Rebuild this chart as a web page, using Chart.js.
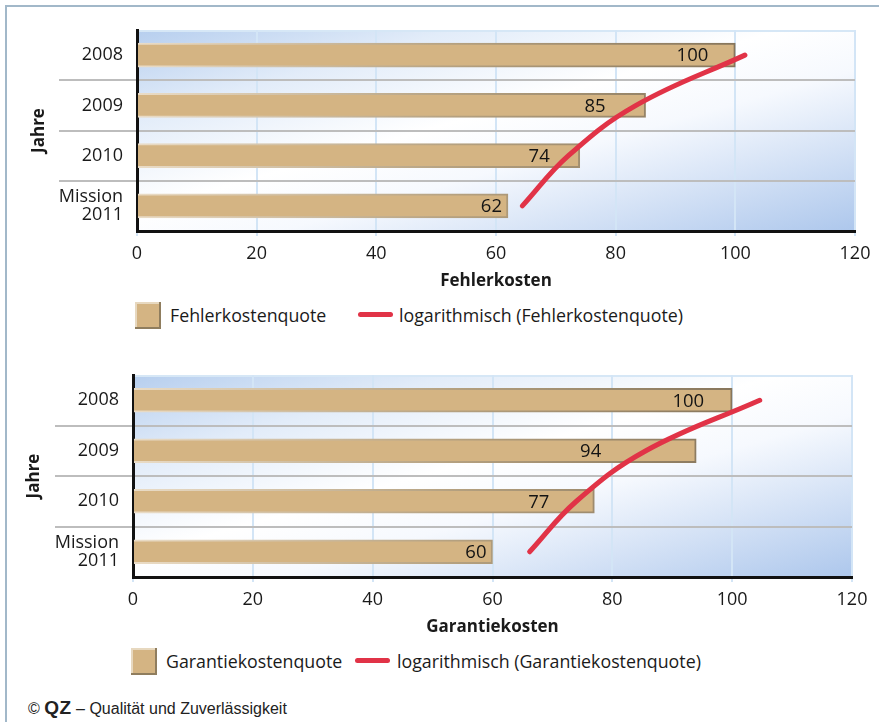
<!DOCTYPE html>
<html lang="de">
<head>
<meta charset="utf-8">
<title>Fehlerkosten und Garantiekosten</title>
<script src="https://cdn.jsdelivr.net/npm/chart.js@4/dist/chart.umd.min.js"></script>
<style>
  html, body { margin: 0; padding: 0; background: #fff; }
  body { width: 879px; height: 722px; position: relative; overflow: hidden;
         font-family: "Open Sans", "Noto Sans", sans-serif; color: #1e1e1e; }
  .frame-top { position: absolute; left: 5px; top: 5px; width: 874px; height: 2px; background: #a2b8c9; }
  .frame-left { position: absolute; left: 5px; top: 5px; width: 2px; height: 717px; background: #a2b8c9; }
  canvas { position: absolute; left: 0; }
  .swatch { position: absolute; width: 26px; height: 27px; background: #d4b483;
            box-shadow: inset -2px -2px 0 #8f7d5e, inset 2px 2px 0 #e7d8bf; }
  .trend { position: absolute; width: 35px; height: 5px; border-radius: 3px; background: #e13347; }
  .ltext { position: absolute; font-size: 17.8px; line-height: 20px; white-space: nowrap; color: #1a1a1a; }
  .footer { position: absolute; left: 28px; top: 697px; font-family: "Liberation Sans", Arial, sans-serif;
            font-size: 16px; line-height: 22px; white-space: nowrap; color: #222; }
  .footer b { font-size: 19px; font-weight: 900; letter-spacing: 0.5px; }
</style>
</head>
<body>
<div class="frame-top"></div>
<div class="frame-left"></div>

<canvas id="fehler" width="879" height="295" style="top:0"></canvas>
<canvas id="garantie" width="879" height="295" style="top:345px"></canvas>

<!-- legend of the upper chart -->
<div class="swatch" style="left:135px; top:302px"></div>
<div class="ltext" style="left:170px; top:305px">Fehlerkostenquote</div>
<div class="trend" style="left:358px; top:312px"></div>
<div class="ltext" style="left:399px; top:305px">logarithmisch (Fehlerkostenquote)</div>

<!-- legend of the lower chart -->
<div class="swatch" style="left:131px; top:648px"></div>
<div class="ltext" style="left:166px; top:651px">Garantiekostenquote</div>
<div class="trend" style="left:355px; top:658px"></div>
<div class="ltext" style="left:397px; top:651px">logarithmisch (Garantiekostenquote)</div>

<div class="footer">© <b>QZ</b> – Qualität und Zuverlässigkeit</div>

<script>
// Categories (one per year) and the quota values per chart
const years = ['2008', '2009', '2010', ['Mission', '2011']];

const fehlerkostenQuote = [100, 85, 74, 62];
const fehlerkostenTrend = [101.6, 83.4, 72.1, 64.4];

const garantiekostenQuote = [100, 94, 77, 60];
const garantiekostenTrend = [104.6, 85.6, 74.0, 66.2];

const xTickValues = [0, 20, 40, 60, 80, 100, 120];

const FONT = '"Open Sans", "Noto Sans", sans-serif';
const BAR_FILL = '#d4b483';
const TREND_RED = '#e13347';

// Diagonal blue-white-blue wash behind the plot area
const plotBackground = {
  id: 'plotBackground',
  beforeDraw(chart) {
    const { ctx, chartArea: a } = chart;
    ctx.save();
    ctx.translate(a.left, a.top);
    ctx.scale(a.right - a.left, a.bottom - a.top);
    const g = ctx.createLinearGradient(0, 0, 1, 1);
    g.addColorStop(0, '#b6ceee');
    g.addColorStop(0.22, '#e2ecf9');
    g.addColorStop(0.45, '#ffffff');
    g.addColorStop(0.6, '#f6f9fe');
    g.addColorStop(1, '#adc7ec');
    ctx.fillStyle = g;
    ctx.fillRect(0, 0, 1, 1);
    ctx.restore();
    ctx.save();
    ctx.strokeStyle = '#d6e7f6';
    ctx.lineWidth = 2;
    ctx.beginPath();
    ctx.moveTo(a.left, a.top + 1);
    ctx.lineTo(a.right, a.top + 1);
    ctx.stroke();
    ctx.restore();
  }
};

// Value labels written inside the bar ends
const barValueLabels = {
  id: 'barValueLabels',
  afterDatasetsDraw(chart, args, opts) {
    const { ctx } = chart;
    chart.data.datasets.forEach((ds, di) => {
      if (ds.type !== 'bar') return;
      const meta = chart.getDatasetMeta(di);
      meta.data.forEach((bar, i) => {
        ctx.save();
        ctx.font = '18.5px ' + FONT;
        ctx.fillStyle = '#141414';
        ctx.textAlign = 'right';
        ctx.textBaseline = 'middle';
        ctx.fillText(String(ds.data[i]), bar.x - opts.insets[i], bar.y + 1);
        ctx.restore();
      });
    });
  }
};

function barBorder(context) {
  const chart = context.chart;
  const a = chart.chartArea;
  if (!a) return '#8f7d5e';
  const g = chart.ctx.createLinearGradient(a.left, 0, a.right, 0);
  g.addColorStop(0, '#eadcc6');
  g.addColorStop(0.45, '#b4a07f');
  g.addColorStop(0.85, '#85745a');
  g.addColorStop(1, '#7d6d54');
  return g;
}

function buildChart(canvasId, quote, trend, xTitle, layout, insets) {
  return new Chart(document.getElementById(canvasId), {
    data: {
      labels: years,
      datasets: [
        {
          type: 'line',
          label: 'logarithmisch',
          data: trend,
          borderColor: TREND_RED,
          borderWidth: 5,
          borderCapStyle: 'round',
          pointRadius: 0,
          tension: 0.4,
          fill: false,
          order: 0
        },
        {
          type: 'bar',
          label: 'Quote',
          data: quote,
          backgroundColor: BAR_FILL,
          borderColor: barBorder,
          borderWidth: 2,
          borderSkipped: 'start',
          barThickness: 24,
          order: 1
        }
      ]
    },
    options: {
      indexAxis: 'y',
      responsive: false,
      animation: false,
      devicePixelRatio: 1,
      layout: { padding: { top: 30, right: layout.right, bottom: layout.bottom, left: 0 } },
      plugins: {
        legend: { display: false },
        tooltip: { enabled: false },
        barValueLabels: { insets: insets }
      },
      scales: {
        x: {
          type: 'linear',
          min: 0,
          max: 120,
          afterBuildTicks(scale) { scale.ticks = xTickValues.map(v => ({ value: v })); },
          afterFit(scale) { scale.height = 60; },
          border: { display: true, color: '#111', width: 3 },
          grid: { color: '#d3e5f6', lineWidth: 2, tickLength: 5, drawTicks: true },
          ticks: { color: '#1a1a1a', font: { family: FONT, size: 18 }, padding: 7 },
          title: {
            display: true,
            text: xTitle,
            color: '#1a1a1a',
            font: { family: FONT, size: 17, weight: 'bold' },
            padding: { top: 0, bottom: 0 }
          }
        },
        y: {
          type: 'category',
          offset: true,
          afterFit(scale) { scale.width = layout.left; },
          border: { display: true, color: '#111', width: 3 },
          grid: {
            offset: true,
            lineWidth: 2,
            tickLength: 78,
            color: (ctx) => (ctx.type === 'tick' && ctx.index > 0) ? '#bdbdbd' : 'rgba(0,0,0,0)'
          },
          ticks: {
            color: '#1a1a1a',
            font: { family: FONT, size: 18, lineHeight: 1.0 },
            padding: -64
          },
          title: {
            display: true,
            text: 'Jahre',
            color: '#1a1a1a',
            font: { family: FONT, size: 17, weight: 'bold' },
            padding: { top: layout.titleOffset, bottom: 0 }
          }
        }
      }
    },
    plugins: [plotBackground, barValueLabels]
  });
}

buildChart('fehler', fehlerkostenQuote, fehlerkostenTrend, 'Fehlerkosten',
  { left: 137, right: 24, bottom: 4, titleOffset: 29 }, [27, 40, 30, 6]);

buildChart('garantie', garantiekostenQuote, garantiekostenTrend, 'Garantiekosten',
  { left: 133, right: 27, bottom: 3, titleOffset: 24 }, [28, 95, 45, 6]);
</script>
</body>
</html>
